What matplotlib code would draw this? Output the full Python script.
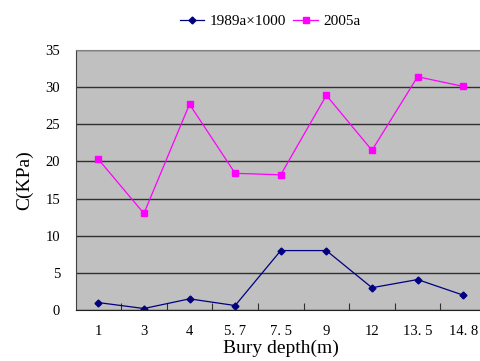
import matplotlib
matplotlib.use('Agg')
import matplotlib.pyplot as plt
from matplotlib.ticker import FixedLocator
import numpy as np

# Cohesion at each bury depth
depth_labels = ['1', '3', '4', '5. 7', '7. 5', '9', '12', '13. 5', '14. 8']
c_1989 = [1.0, 0.2, 1.5, 0.6, 8.0, 8.0, 3.0, 4.1, 2.0]
c_2005 = [20.3, 13.0, 27.7, 18.4, 18.2, 28.9, 21.5, 31.4, 30.1]

plt.rcParams['font.family'] = ['Liberation Serif', 'DejaVu Serif']

fig = plt.figure(figsize=(4.81, 3.61), dpi=100)
ax = fig.add_axes([75.5 / 481, 51 / 361, 410.5 / 481, 260 / 361])
ax.set_facecolor('#c0c0c0')

x = np.arange(len(depth_labels))
ax.plot(x, c_1989, color='#000080', lw=0.9, marker='D', ms=3.5,
        label='1989a\u00d71000')
ax.plot(x, c_2005, color='#ff00ff', lw=0.9, marker='s', ms=4.5,
        label='2005a')

ax.set_xlim(-0.5, len(depth_labels) - 0.5)
ax.set_ylim(0, 35)
ax.set_yticks(np.arange(0, 36, 5))
ax.set_xticks(x)
ax.set_xticklabels(depth_labels)
ax.xaxis.set_minor_locator(FixedLocator(np.arange(0.5, len(depth_labels) - 0.5, 1)))

ax.yaxis.grid(True, color='#303030', lw=1.0)
ax.set_axisbelow(True)

ax.tick_params(axis='y', length=0, pad=11, labelsize=10.5)
ax.tick_params(axis='x', which='major', length=0, pad=11, labelsize=10.5)
ax.tick_params(axis='x', which='minor', direction='in', length=5, width=0.8,
               color='#303030')

ax.spines['right'].set_visible(False)
ax.spines['top'].set_color('#808080')
ax.spines['left'].set_color('#404040')
ax.spines['bottom'].set_color('#202020')

ax.set_xlabel('Bury depth(m)', fontsize=14, labelpad=1)
ax.set_ylabel('C(KPa)', fontsize=14, labelpad=9)

fig.legend(loc='center', bbox_to_anchor=(270 / 481, 1 - 21 / 361), ncol=2,
           frameon=False, fontsize=11, handlelength=1.6, columnspacing=0.5,
           handletextpad=0.35)

fig.savefig('out.png', dpi=100)
plt.close(fig)
